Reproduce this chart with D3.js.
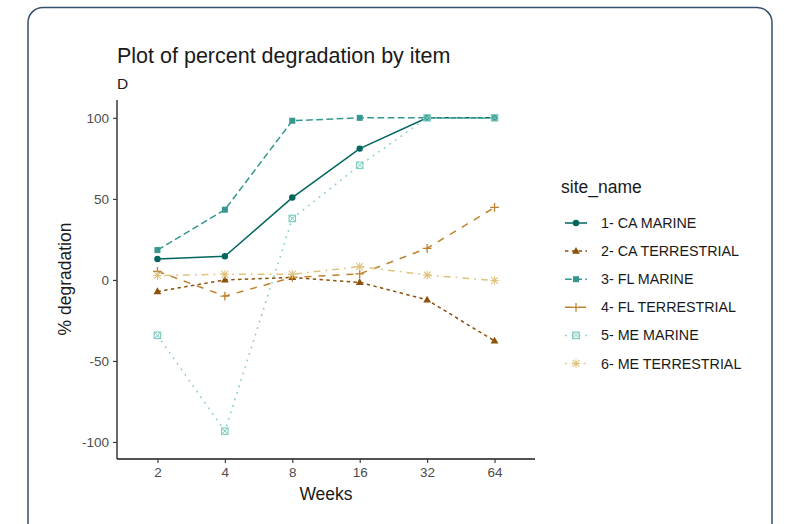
<!DOCTYPE html>
<html>
<head>
<meta charset="utf-8">
<script src="https://cdn.jsdelivr.net/npm/d3@7"></script>
<style>
  body { margin: 0; background: #fff; }
  svg text { font-family: "Liberation Sans", Arial, sans-serif; }
</style>
</head>
<body>
<div id="chart"></div>
<script>
const width = 788;
const height = 524;

const weeks = ['2', '4', '8', '16', '32', '64'];
const siteNames = ['1- CA MARINE', '2- CA TERRESTRIAL', '3- FL MARINE',
  '4- FL TERRESTRIAL', '5- ME MARINE', '6- ME TERRESTRIAL'];

const caMarine = [12.9, 14.6, 50.8, 81, 100, 100];
const caTerrestrial = [-7.2, 0, 1.5, -1.5, -12.3, -37.7];
const flMarine = [18.4, 43.3, 98.2, 100, 100, 100];
const flTerrestrial = [5.3, -10, 1.5, 3.7, 19.5, 44.7];
const meMarine = [-34.2, -93.3, 37.9, 70.7, 100, 100];
const meTerrestrial = [2.7, 3.5, 3.5, 8.2, 3, -0.4];

const yTicks = [-100, -50, 0, 50, 100];

const seriesValues = [caMarine, caTerrestrial, flMarine, flTerrestrial, meMarine, meTerrestrial];
const colors = ['#01665e', '#8c510a', '#35978f', '#bf812d', '#80cdc1', '#dfc27d'];
const dashes = [null, '3.4,3.4', '6.8,3.4', '7,7', '1.7,5.1', '1.7,5.1,6.8,5.1'];
const shapes = ['circle', 'triangle', 'square', 'plus', 'squarecross', 'asterisk'];

const series = siteNames.map((name, i) => ({
  name: name,
  color: colors[i],
  dash: dashes[i],
  shape: shapes[i],
  values: weeks.map((w, j) => ({ week: w, value: seriesValues[i][j] }))
}));

const svg = d3.select('#chart').append('svg')
    .attr('width', width)
    .attr('height', height);

// card
svg.append('rect')
  .attr('x', 28)
  .attr('y', 7.5)
  .attr('width', 744)
  .attr('height', 560)
  .attr('rx', 15)
  .attr('fill', '#fff')
  .attr('stroke', '#34506b')
  .attr('stroke-width', 1.5);

const plot = { left: 117, right: 535, top: 100, bottom: 459 };

const x = d3.scalePoint()
  .domain(weeks)
  .range([plot.left, plot.right])
  .padding(0.6);

const y = d3.scaleLinear()
  .domain([-110.5, 111])
  .range([plot.bottom, plot.top]);

// title
svg.append('text')
  .attr('x', 117)
  .attr('y', 63)
  .attr('font-size', 21.5)
  .attr('fill', '#1a1a1a')
  .text('Plot of percent degradation by item');

svg.append('text')
  .attr('x', 117)
  .attr('y', 89)
  .attr('font-size', 15.5)
  .attr('fill', '#1a1a1a')
  .text('D');

// axes
const xAxis = svg.append('g')
  .attr('transform', `translate(0, ${plot.bottom})`)
  .call(d3.axisBottom(x).tickSize(4).tickPadding(4));

const yAxis = svg.append('g')
  .attr('transform', `translate(${plot.left}, 0)`)
  .call(d3.axisLeft(y).tickValues(yTicks).tickFormat(v => String(v)).tickSize(4).tickPadding(4));

[xAxis, yAxis].forEach(function (ax) {
  ax.select('.domain').attr('stroke', '#1a1a1a').attr('stroke-width', 1.3);
  ax.selectAll('.tick line').attr('stroke', '#333').attr('stroke-width', 1.1);
  ax.selectAll('.tick text')
    .attr('fill', '#4d4d4d')
    .attr('font-size', 13.5)
    .attr('font-family', '"Liberation Sans", Arial, sans-serif');
});

xAxis.select('.domain').attr('d', `M${plot.left},0H${plot.right}`);
yAxis.select('.domain').attr('d', `M0,${plot.top}V${plot.bottom}`);

svg.append('text')
  .attr('x', (plot.left + plot.right) / 2)
  .attr('y', 500)
  .attr('text-anchor', 'middle')
  .attr('font-size', 17.5)
  .attr('fill', '#1a1a1a')
  .text('Weeks');

svg.append('text')
  .attr('transform', `translate(71, 279) rotate(-90)`)
  .attr('text-anchor', 'middle')
  .attr('font-size', 17.5)
  .attr('fill', '#1a1a1a')
  .text('% degradation');

// markers
function drawShape (g, shape, color) {
  const s = 3.4;
  if (shape === 'circle') {
    g.append('circle').attr('r', 3.2).attr('fill', color);
  } else if (shape === 'triangle') {
    g.append('path').attr('d', 'M0,-4.2L3.9,2.6L-3.9,2.6Z').attr('fill', color);
  } else if (shape === 'square') {
    g.append('rect').attr('x', -3).attr('y', -3).attr('width', 6).attr('height', 6).attr('fill', color);
  } else if (shape === 'plus') {
    g.append('path').attr('d', `M${-s - 1},0H${s + 1}M0,${-s - 1}V${s + 1}`)
      .attr('stroke', color).attr('stroke-width', 1.3).attr('fill', 'none');
  } else if (shape === 'squarecross') {
    g.append('rect').attr('x', -3.2).attr('y', -3.2).attr('width', 6.4).attr('height', 6.4)
      .attr('stroke', color).attr('stroke-width', 1.2).attr('fill', 'none');
    g.append('path').attr('d', 'M-3.2,-3.2L3.2,3.2M3.2,-3.2L-3.2,3.2')
      .attr('stroke', color).attr('stroke-width', 1).attr('fill', 'none');
  } else if (shape === 'asterisk') {
    g.append('path')
      .attr('d', `M${-s - 0.8},0H${s + 0.8}M0,${-s - 0.8}V${s + 0.8}M${-s},${-s}L${s},${s}M${s},${-s}L${-s},${s}`)
      .attr('stroke', color).attr('stroke-width', 1.1).attr('fill', 'none');
  }
}

const line = d3.line()
  .x(d => x(d.week))
  .y(d => y(d.value));

const seriesG = svg.selectAll('.series')
  .data(series)
  .enter()
  .append('g')
    .attr('class', 'series');

seriesG.append('path')
  .attr('d', d => line(d.values))
  .attr('fill', 'none')
  .attr('stroke', d => d.color)
  .attr('stroke-width', 1.5)
  .attr('stroke-dasharray', d => d.dash);

seriesG.each(function (d) {
  const g = d3.select(this);
  d.values.forEach(function (v) {
    const m = g.append('g').attr('transform', `translate(${x(v.week)}, ${y(v.value)})`);
    drawShape(m, d.shape, d.color);
  });
});

// legend
const legend = svg.append('g').attr('transform', 'translate(561, 0)');

legend.append('text')
  .attr('x', 0)
  .attr('y', 193)
  .attr('font-size', 17.5)
  .attr('fill', '#1a1a1a')
  .text('site_name');

const legendItems = legend.selectAll('.legend-item')
  .data(series)
  .enter()
  .append('g')
    .attr('class', 'legend-item')
    .attr('transform', (d, i) => `translate(0, ${223 + i * 28.1})`);

legendItems.append('path')
  .attr('d', 'M4,0H26')
  .attr('stroke', d => d.color)
  .attr('stroke-width', 1.5)
  .attr('stroke-dasharray', d => d.dash);

legendItems.each(function (d) {
  const m = d3.select(this).append('g').attr('transform', 'translate(15, 0)');
  drawShape(m, d.shape, d.color);
});

legendItems.append('text')
  .attr('x', 40)
  .attr('y', 5)
  .attr('font-size', 14.3)
  .attr('fill', '#1a1a1a')
  .text(d => d.name);
</script>
</body>
</html>
